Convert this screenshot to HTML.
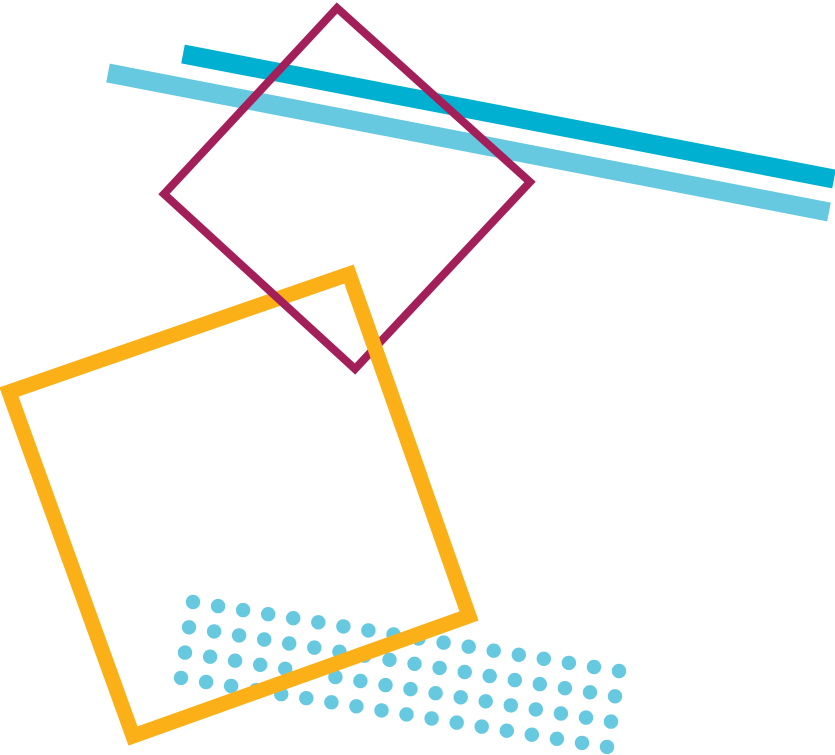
<!DOCTYPE html>
<html><head><style>html,body{margin:0;padding:0;background:#fff}svg{display:block}</style></head>
<body>
<svg width="835" height="755" viewBox="0 0 835 755" xmlns="http://www.w3.org/2000/svg">
<defs>
<g id="row" fill="#66c9e0">
<circle cx="193" cy="602" r="7.2"/><circle cx="218.1" cy="606.1" r="7.2"/><circle cx="243.1" cy="610.1" r="7.2"/><circle cx="268.2" cy="614.2" r="7.2"/><circle cx="293.2" cy="618.2" r="7.2"/><circle cx="318.3" cy="622.3" r="7.2"/><circle cx="343.4" cy="626.4" r="7.2"/><circle cx="368.4" cy="630.4" r="7.2"/><circle cx="393.5" cy="634.5" r="7.2"/><circle cx="418.5" cy="638.5" r="7.2"/><circle cx="443.6" cy="642.6" r="7.2"/><circle cx="468.7" cy="646.7" r="7.2"/><circle cx="493.7" cy="650.7" r="7.2"/><circle cx="518.8" cy="654.8" r="7.2"/><circle cx="543.8" cy="658.8" r="7.2"/><circle cx="568.9" cy="662.9" r="7.2"/><circle cx="594" cy="667" r="7.2"/><circle cx="619" cy="671" r="7.2"/>
</g>
</defs>
<line x1="183" y1="54" x2="834" y2="179" stroke="#00b0d0" stroke-width="19"/>
<line x1="108" y1="73" x2="829" y2="212" stroke="#66c9e0" stroke-width="19"/>
<use href="#row"/>
<use href="#row" transform="translate(-4,25.3)"/>
<use href="#row" transform="translate(-8,50.6)"/>
<use href="#row" transform="translate(-12,75.9)"/>
<polygon points="9,392 349,274 469,616 133,736" fill="none" stroke="#fbb018" stroke-width="15" stroke-linejoin="miter"/>
<polygon points="337,8 530,182 355,369 164,194" fill="none" stroke="#a31f5a" stroke-width="8"/>
<line x1="349" y1="274" x2="420" y2="476" stroke="#fbb018" stroke-width="15"/>
</svg>
</body></html>
